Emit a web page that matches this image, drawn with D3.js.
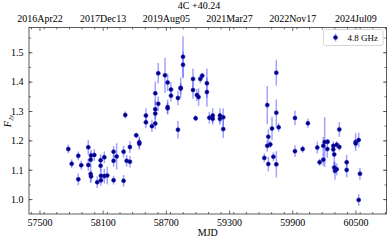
<!DOCTYPE html>
<head>
<meta charset="utf-8" />
<style>
	body { margin: 0; background: #fff; }
	svg { display: block; font-family: "Liberation Serif", serif; font-size: 10px; }
</style>
</head>
<body>
<div id="chart"></div>
<script src="https://cdnjs.cloudflare.com/ajax/libs/d3/7.8.5/d3.min.js"></script>
<script>
var title = '4C +40.24';
var seriesName = '4.8 GHz';

var mjd = [57769, 57801, 57864, 57864, 57892, 57959, 57959, 57981, 57981, 57985, 57985, 58016, 58044,
	58076, 58076, 58079, 58079, 58111, 58111, 58139, 58199, 58199, 58199, 58228, 58294, 58294, 58310,
	58323, 58354, 58354, 58414, 58443, 58443, 58506, 58506, 58563, 58595, 58595, 58595, 58595, 58623,
	58623, 58687, 58712, 58712, 58712, 58744, 58744, 58810, 58810, 58836, 58836, 58858, 58858, 58953,
	58953, 58978, 58990, 59006, 59022, 59041, 59085, 59085, 59108, 59140, 59140, 59209, 59209, 59240,
	59240, 59630, 59658, 59658, 59668, 59668, 59687, 59703, 59716, 59744, 59744, 59744, 59766, 59921,
	59921, 59994, 60044, 60133, 60155, 60190, 60190, 60203, 60228, 60231, 60285, 60285, 60294, 60294,
	60301, 60317, 60317, 60342, 60342, 60412, 60412, 60497, 60497, 60526, 60526, 60538];
var flux = [1.172, 1.122, 1.149, 1.069, 1.117, 1.178, 1.118, 1.136, 1.087, 1.150, 1.079, 1.152, 1.059,
	1.134, 1.115, 1.081, 1.066, 1.144, 1.080, 1.082, 1.163, 1.132, 1.066, 1.147, 1.163, 1.064, 1.288,
	1.132, 1.179, 1.129, 1.219, 1.195, 1.190, 1.286, 1.263, 1.250, 1.362, 1.308, 1.293, 1.259, 1.430,
	1.326, 1.423, 1.399, 1.315, 1.311, 1.375, 1.354, 1.346, 1.238, 1.381, 1.378, 1.486, 1.459, 1.411,
	1.373, 1.277, 1.356, 1.349, 1.411, 1.422, 1.396, 1.366, 1.279, 1.286, 1.275, 1.286, 1.275, 1.280,
	1.240, 1.142, 1.322, 1.183, 1.214, 1.121, 1.188, 1.242, 1.146, 1.432, 1.296, 1.120, 1.246, 1.278,
	1.165, 1.172, 1.260, 1.177, 1.127, 1.183, 1.136, 1.196, 1.172, 1.197, 1.183, 1.171, 1.154, 1.109,
	1.098, 1.103, 1.187, 1.239, 1.179, 1.127, 1.101, 1.196, 1.191, 1.203, 0.999, 1.088];
var err = [0.015, 0.015, 0.015, 0.02, 0.015, 0.025, 0.02, 0.025, 0.03, 0.02, 0.02, 0.02, 0.02,
	0.02, 0.02, 0.025, 0.02, 0.02, 0.025, 0.03, 0.02, 0.02, 0.015, 0.045, 0.02, 0.02, 0.012,
	0.02, 0.02, 0.02, 0.008, 0.02, 0.02, 0.025, 0.02, 0.02, 0.04, 0.03, 0.02, 0.02, 0.035,
	0.025, 0.06, 0.03, 0.025, 0.02, 0.025, 0.02, 0.025, 0.03, 0.035, 0.02, 0.07, 0.045, 0.035,
	0.03, 0.01, 0.02, 0.03, 0.015, 0.01, 0.05, 0.05, 0.02, 0.025, 0.02, 0.025, 0.02, 0.03,
	0.03, 0.015, 0.065, 0.02, 0.025, 0.025, 0.012, 0.04, 0.015, 0.044, 0.045, 0.045, 0.015, 0.025,
	0.02, 0.012, 0.015, 0.02, 0.012, 0.03, 0.02, 0.085, 0.03, 0.01, 0.015, 0.015, 0.035, 0.02,
	0.03, 0.02, 0.012, 0.025, 0.012, 0.025, 0.025, 0.03, 0.015, 0.025, 0.02, 0.02];

var xTicks = [57500, 58100, 58700, 59300, 59900, 60500];
var dateLabels = ['2016Apr22', '2017Dec13', '2019Aug05', '2021Mar27', '2022Nov17', '2024Jul09'];
var yTicks = [1.0, 1.1, 1.2, 1.3, 1.4, 1.5];

var W = 389, H = 240;
var m = { left: 29, right: 386.5, top: 27.5, bottom: 214 };

var x = d3.scaleLinear().domain([57396, 60790]).range([m.left, m.right]);
var y = d3.scaleLinear().domain([0.951, 1.586]).range([m.bottom, m.top]);

var svg = d3.select('#chart').append('svg').attr('width', W).attr('height', H);

var data = mjd.map((d, i) => ({ x: d, y: flux[i], e: err[i] }));

// error bars then markers
var g = svg.append('g');
g.selectAll('line.err').data(data).join('line')
	.attr('class', 'err')
	.attr('x1', d => x(d.x)).attr('x2', d => x(d.x))
	.attr('y1', d => y(d.y - d.e)).attr('y2', d => y(d.y + d.e))
	.attr('stroke', '#4848ff').attr('stroke-opacity', 0.5).attr('stroke-width', 1.5);
g.selectAll('circle').data(data).join('circle')
	.attr('cx', d => x(d.x)).attr('cy', d => y(d.y)).attr('r', 2)
	.attr('fill', '#00007a').attr('stroke', '#1a1acc').attr('stroke-width', 0.6);

// frame
svg.append('rect')
	.attr('x', m.left).attr('y', m.top)
	.attr('width', m.right - m.left).attr('height', m.bottom - m.top)
	.attr('fill', 'none').attr('stroke', '#333').attr('stroke-width', 0.8);

// inward ticks on all sides
var xMinor = d3.range(57420, 60790, 120);
var yMinor = d3.range(0.95, 1.586, 0.05);
var tk = svg.append('g').attr('stroke', '#333').attr('stroke-width', 0.7);
function xt(vals, len) {
	vals.forEach(v => {
		tk.append('line').attr('x1', x(v)).attr('x2', x(v)).attr('y1', m.bottom).attr('y2', m.bottom - len);
		tk.append('line').attr('x1', x(v)).attr('x2', x(v)).attr('y1', m.top).attr('y2', m.top + len);
	});
}
function yt(vals, len) {
	vals.forEach(v => {
		if (y(v) < m.top || y(v) > m.bottom) return;
		tk.append('line').attr('y1', y(v)).attr('y2', y(v)).attr('x1', m.left).attr('x2', m.left + len);
		tk.append('line').attr('y1', y(v)).attr('y2', y(v)).attr('x1', m.right).attr('x2', m.right - len);
	});
}
xt(xMinor, 2); xt(xTicks, 3.5);
yt(yMinor, 2); yt(yTicks, 3.5);

svg.append('g').selectAll('text').data(xTicks).join('text')
	.attr('x', d => x(d)).attr('y', 226).attr('text-anchor', 'middle').text(d => d);
svg.append('g').selectAll('text').data(dateLabels).join('text')
	.attr('x', (d, i) => x(xTicks[i])).attr('y', 21.5).attr('text-anchor', 'middle').text(d => d);
svg.append('g').selectAll('text').data(yTicks).join('text')
	.attr('x', 23.5).attr('y', d => y(d) + 3.3).attr('text-anchor', 'end').text(d => d.toFixed(1));

svg.append('text').attr('x', 199).attr('y', 8.5).attr('text-anchor', 'middle').text(title);
svg.append('text').attr('x', (m.left + m.right) / 2).attr('y', 235.5).attr('text-anchor', 'middle').text('MJD');

var yl = svg.append('text').attr('transform', 'translate(11,121) rotate(-90)')
	.attr('text-anchor', 'middle').attr('font-style', 'italic');
yl.append('tspan').text('F');
yl.append('tspan').attr('font-size', '7px').attr('dy', 2).text('Jy');

// legend
var lg = svg.append('g');
lg.append('rect').attr('x', 323.5).attr('y', 29.5).attr('width', 59.5).attr('height', 16).attr('rx', 2)
	.attr('fill', '#fff').attr('stroke', '#ccc').attr('stroke-width', 0.8);
lg.append('line').attr('x1', 335.5).attr('x2', 335.5).attr('y1', 33.5).attr('y2', 41.5)
	.attr('stroke', '#4848ff').attr('stroke-opacity', 0.5).attr('stroke-width', 1.5);
lg.append('circle').attr('cx', 335.5).attr('cy', 37.5).attr('r', 2)
	.attr('fill', '#00007a').attr('stroke', '#1a1acc').attr('stroke-width', 0.6);
lg.append('text').attr('x', 378).attr('y', 41).attr('text-anchor', 'end').attr('font-size', '9px').text(seriesName);
</script>
</body>
